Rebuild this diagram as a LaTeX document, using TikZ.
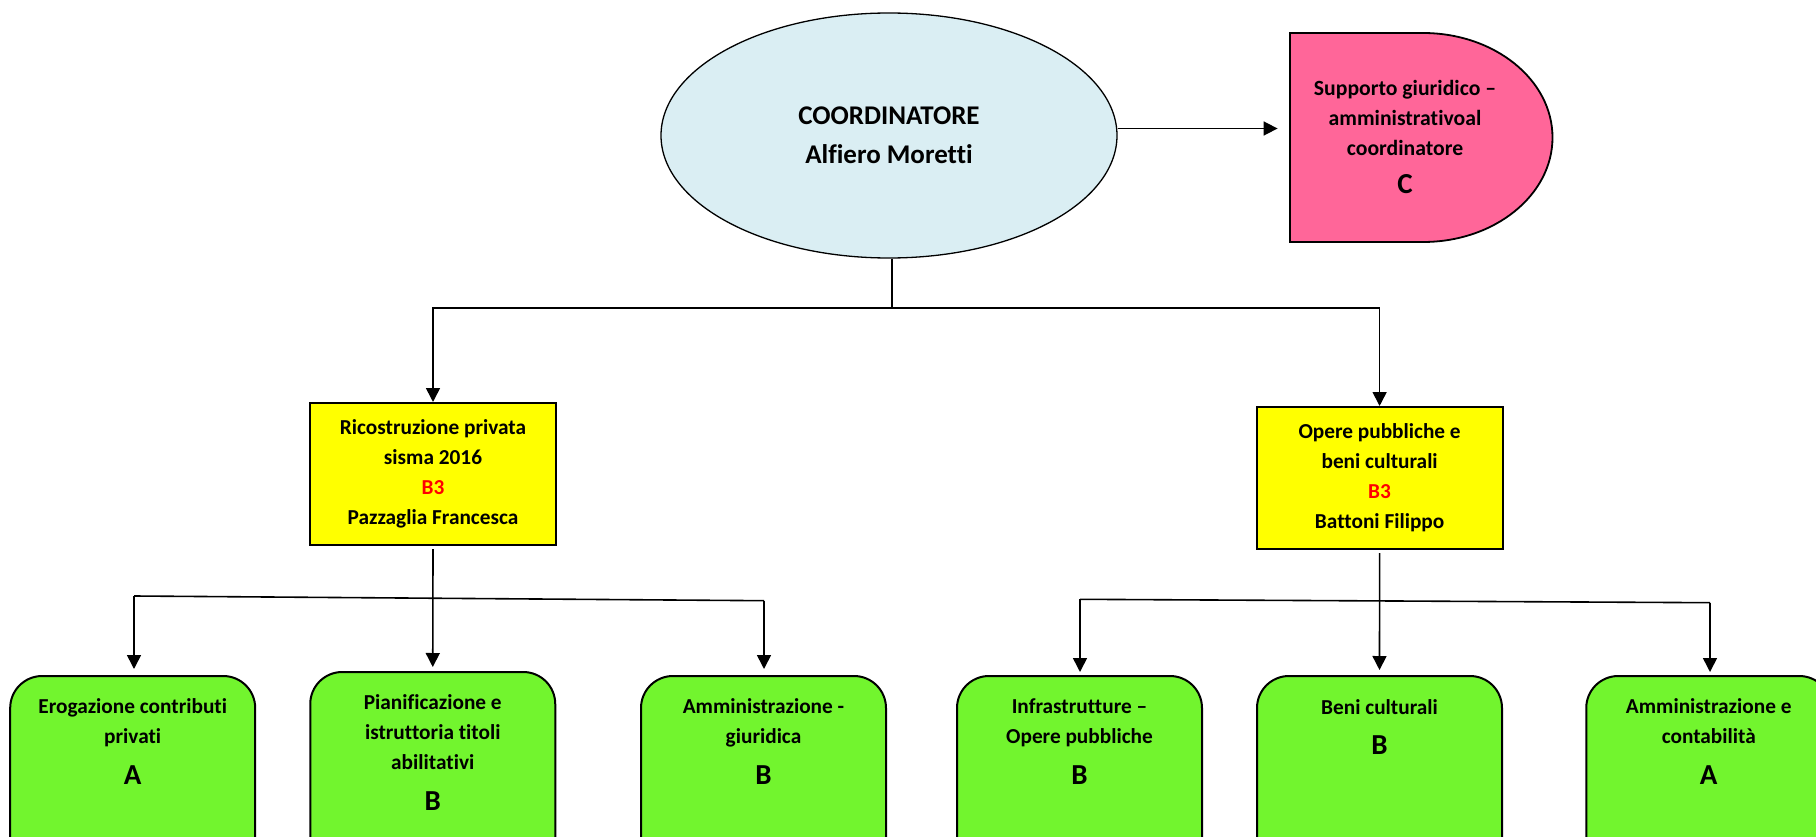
\documentclass[tikz,border=0pt]{standalone}
\usepackage{fontspec}
\setmainfont{Carlito}[BoldFont={Carlito Bold},Ligatures=CommonOff]
\usetikzlibrary{arrows.meta,shapes.geometric}
\definecolor{ellblue}{HTML}{DAEEF3}
\definecolor{pinkc}{HTML}{FF6699}
\definecolor{greenc}{RGB}{114,245,46}
\definecolor{yellowc}{HTML}{FFFF00}
\definecolor{redc}{HTML}{FF0000}
\newcommand\BigLetter[1]{{\fontsize{29}{30}\selectfont #1}}
\begin{document}
\begin{tikzpicture}[x=1pt,y=-1pt,
  conn/.style={line width=1.6pt, draw=black},
  arr/.style={conn, -{Triangle[length=14pt,width=14pt]}},
  ellnode/.style={ellipse, draw, line width=1.3pt, fill=ellblue, minimum width=456pt, minimum height=245pt, inner sep=0pt, align=center, font=\fontsize{27}{39}\selectfont\bfseries},
  ybox/.style={rectangle, draw, line width=2pt, fill=yellowc, minimum width=246pt, minimum height=142pt, inner sep=0pt, align=center, font=\fontsize{21.3}{30}\selectfont\bfseries},
  gbox/.style={rectangle, rounded corners=32pt, draw, line width=2pt, fill=greenc, minimum width=245pt, minimum height=220pt, inner sep=0pt},
  gtxt/.style={anchor=base, align=center, inner sep=0pt, font=\fontsize{21.3}{30}\selectfont\bfseries},
  ptxt/.style={align=center, inner sep=0pt, font=\fontsize{21.7}{30}\selectfont\bfseries},
  pinkshape/.style={draw, line width=1.8pt, fill=pinkc}
]
\useasboundingbox (0,0) rectangle (1816,837);
\clip (0,0) rectangle (1816,837);

% coordinator
\node[ellnode] (coord) at (889,135.5) {COORDINATORE\\Alfiero Moretti};

% support box (flat left, rounded right)
\path[pinkshape] (1290,33) -- (1423,33) arc[start angle=-90, end angle=90, x radius=129.5, y radius=104.5] -- (1290,242) -- cycle;
\node[ptxt] (supp) at (1405,137) {Supporto giuridico –\\amministrativoal\\coordinatore\\[8pt]\BigLetter{C}};
\coordinate (suppW) at (1290,135.5);

% second level
\node[ybox] (yl) at (433,474) {Ricostruzione privata\\sisma 2016\\{\color{redc}B3}\\Pazzaglia Francesca};
\node[ybox] (yr) at (1379.6,478) {Opere pubbliche e\\beni culturali\\{\color{redc}B3}\\Battoni Filippo};

% third level
\node[gbox] (g1) at (132.7,786) {};
\node[gbox] (g2) at (432.75,782) {};
\node[gbox] (g3) at (763.5,786) {};
\node[gbox] (g4) at (1079.5,786) {};
\node[gbox] (g5) at (1379.5,786) {};
\node[gbox] (g6) at (1708.75,786) {};

% text nodes: anchor base = baseline of the last line
\node[gtxt] (g1t) at ([yshift=-109.5pt]g1.north) {Erogazione contributi\\privati\\[11pt]\BigLetter{A}};
\node[gtxt] (g2t) at ([yshift=-139pt]g2.north) {Pianificazione e\\istruttoria titoli\\abilitativi\\[11pt]\BigLetter{B}};
\node[gtxt] (g3t) at ([yshift=-109pt]g3.north) {Amministrazione -\\giuridica\\[11pt]\BigLetter{B}};
\node[gtxt] (g4t) at ([yshift=-109pt]g4.north) {Infrastrutture –\\Opere pubbliche\\[11pt]\BigLetter{B}};
\node[gtxt] (g5t) at ([yshift=-79pt]g5.north) {Beni culturali\\[10pt]\BigLetter{B}};
\node[gtxt] (g6t) at ([yshift=-109.5pt]g6.north) {Amministrazione e\\contabilità\\[11pt]\BigLetter{A}};

% connectors
\draw[arr, shorten >=12.4pt] ([yshift=7pt]coord.east) -- ([yshift=7pt]suppW);

\coordinate (s1) at (892,308);
\draw[conn] (coord.south -| s1) -- (s1);
\draw[arr] (s1) -| (yl.north);
\draw[arr] (s1) -| (yr.north);

\coordinate (hl1) at (134,596);
\coordinate (hl3) at (764,600.7);
\draw[conn] (hl1) -- (hl3);
\draw[arr, shorten >=6pt] (hl1) -- (hl1 |- g1.north);
\draw[arr, shorten >=6pt] (hl3) -- (hl3 |- g3.north);
\draw[arr, shorten >=4pt] ([yshift=-3pt]yl.south) -- (g2.north);

\coordinate (hr1) at (1080,599.3);
\coordinate (hr3) at (1710,602.7);
\draw[conn] (hr1) -- (hr3);
\draw[arr, shorten >=3pt] (hr1) -- (hr1 |- g4.north);
\draw[arr, shorten >=3pt] (hr3) -- (hr3 |- g6.north);
\draw[arr, shorten >=5pt] ([yshift=-3pt]yr.south) -- (g5.north);
\end{tikzpicture}
\end{document}
